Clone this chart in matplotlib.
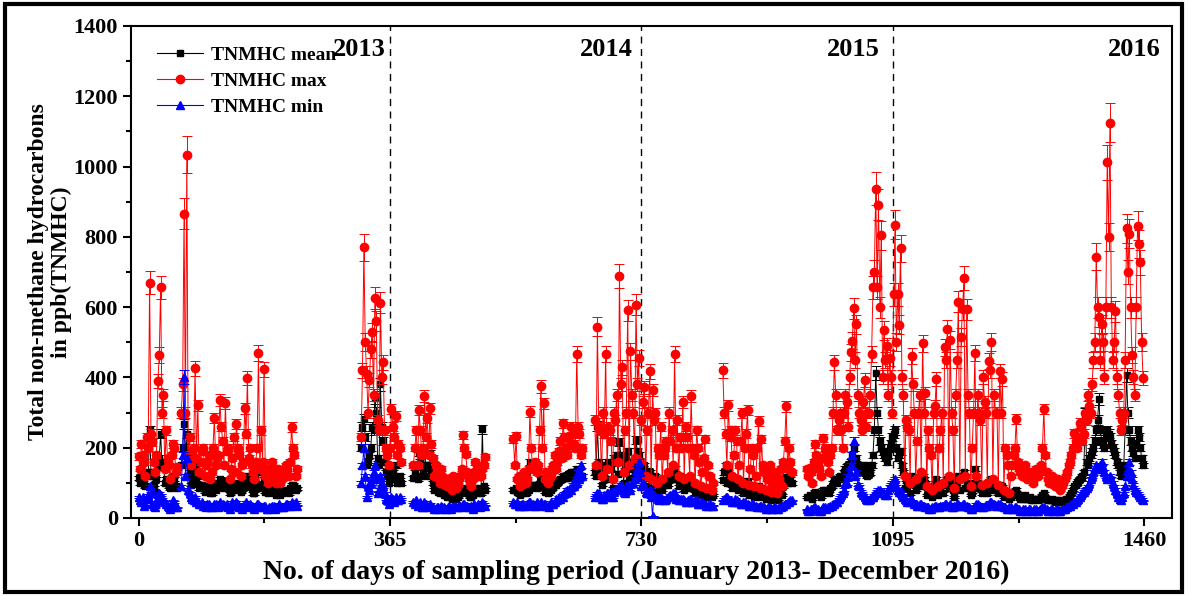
import numpy as np
import matplotlib
matplotlib.use("Agg")
import matplotlib.pyplot as plt
from matplotlib.lines import Line2D
from matplotlib.patches import Rectangle

plt.rcParams['font.family'] = ['Liberation Serif', 'DejaVu Serif']
plt.rcParams['font.weight'] = 'bold'

# Sampling days of each continuous measurement block (two interleaved reads)
days_a = np.arange(0, 57, 4)
days_b = np.arange(62, 231, 4)
days_c = np.arange(323, 380, 4)
days_d = np.arange(399, 504, 4)
days_e1 = np.arange(544, 645, 4)
days_e2 = np.arange(662, 835, 4)
days_f = np.arange(848, 949, 4)
days_g = np.arange(970, 1459, 4)

days_a2 = np.arange(2, 55, 4)
days_b2 = np.arange(64, 229, 4)
days_c2 = np.arange(325, 382, 4)
days_d2 = np.arange(401, 502, 4)
days_e1b = np.arange(546, 643, 4)
days_e2b = np.arange(664, 833, 4)
days_f2 = np.arange(850, 947, 4)
days_g2 = np.arange(972, 1457, 4)

# TNMHC max (ppb)
max_a = [175, 210, 160, 230, 670, 215, 130, 390, 656, 350, 250, 150, 180, 200, 145]
max_b = [300, 866, 1034, 230, 190, 426, 321, 160, 200, 150, 180, 130, 284, 170, 335,
         220, 327, 200, 140, 230, 267, 180, 150, 312, 397, 200, 130, 160, 469, 250,
         423, 140, 120, 160, 110, 140, 100, 130, 150, 120, 259, 180, 140]
max_c = [230, 770, 411, 392, 528, 625, 280, 613, 443, 200, 150, 310, 230, 180, 200]
max_d = [150, 250, 307, 180, 347, 284, 312, 170, 150, 120, 140, 100, 90, 110, 80,
         100, 95, 120, 236, 182, 110, 90, 130, 150, 120, 140, 173]
max_e1 = [226, 234, 120, 100, 130, 110, 303, 140, 160, 150, 375, 326, 130, 110, 140,
          180, 160, 220, 269, 200, 230, 259, 210, 466, 240, 200]
max_e2 = [280, 544, 250, 300, 466, 260, 220, 300, 350, 688, 429, 250, 591, 474, 300,
          607, 454, 280, 372, 250, 417, 364, 298, 200, 260, 180, 220, 300, 250, 466,
          280, 230, 330, 260, 200, 347, 180, 250, 160, 130, 224, 150, 120, 100]
max_f = [420, 240, 321, 250, 180, 220, 150, 298, 200, 307, 140, 180, 120, 276, 224,
         130, 110, 150, 100, 130, 90, 140, 160, 318, 200, 130]
max_g = [140, 142, 100, 210, 150, 120, 227, 180, 130, 200, 443, 250, 300, 200, 350,
         260, 471, 597, 551, 300, 250, 392, 300, 350,
         656, 937, 892, 804, 534, 489, 454, 300, 835, 636,
         767, 350, 280, 250, 460, 300, 220, 350, 497, 355,
         250, 180, 300, 395, 200, 300, 486, 537, 506, 250,
         350, 616, 514, 682, 594, 300, 200, 469, 350, 280,
         400, 300, 446, 500, 350, 300, 418, 395, 200, 150,
         120, 180, 281, 140, 120, 150, 110, 130, 100, 140,
         120, 150, 310, 130, 100, 120, 90, 110, 80, 100,
         120, 150, 180, 241, 200, 270, 220, 300, 350, 300,
         450, 744, 571, 551, 400, 1012, 1125, 450, 588, 350,
         250, 300, 824, 809, 463, 350, 832, 727, 398]

max_a2 = [140, 180, 120, 200, 240, 160, 180, 463, 300, 140, 170, 110, 210, 130]
max_b2 = [380, 300, 180, 150, 200, 170, 130, 190, 120, 160, 110, 200, 150, 180, 260,
          150, 190, 110, 170, 130, 200, 120, 160, 240, 170, 150, 110, 200, 140, 160,
          120, 100, 140, 120, 100, 130, 110, 120, 140, 160, 200, 120]
max_c2 = [420, 500, 300, 480, 350, 560, 250, 400, 250, 180, 200, 260, 290, 210, 160]
max_d2 = [200, 150, 250, 200, 230, 180, 210, 120, 140, 100, 120, 95, 110, 90, 120,
          85, 110, 140, 200, 130, 100, 110, 160, 130, 120, 150]
max_e1b = [150, 110, 90, 120, 100, 140, 200, 150, 130, 250, 200, 110, 100, 120, 150,
           140, 190, 170, 230, 180, 210, 240, 200, 260, 180]
max_e2b = [150, 260, 120, 240, 140, 250, 110, 280, 160, 380, 130, 300, 150, 350, 170,
           380, 160, 330, 120, 300, 110, 280, 100, 180, 110, 200, 130, 220, 150, 200,
           120, 200, 110, 230, 120, 200, 100, 200, 90, 170, 85, 120, 80]
max_f2 = [300, 150, 230, 120, 250, 110, 220, 100, 240, 95, 200, 90, 200, 85, 150,
          80, 130, 75, 120, 70, 110, 90, 220, 140, 160]
max_g2 = [120, 130, 160, 180, 140, 170, 200, 160, 180, 300, 350, 280, 250, 300, 330,
          400, 505, 450, 350, 280, 330, 260, 300, 466,
          700, 656, 600, 400, 450, 350, 400, 636, 500, 550,
          400, 120, 260, 100, 380, 110, 300, 130, 300, 90,
          200, 80, 320, 90, 250, 100, 450, 120, 300, 85,
          450, 110, 594, 120, 350, 90, 300, 120, 300, 95,
          330, 100, 420, 110, 300, 95, 300, 80, 180, 70,
          150, 200, 160, 130, 140, 120, 120, 110, 120, 130,
          140, 200, 180, 110, 110, 100, 100, 90, 90, 110,
          130, 160, 200, 220, 230, 260, 240, 280, 320, 380,
          500, 600, 450, 500, 600, 800, 600, 500, 400, 300,
          280, 450, 700, 600, 400, 600, 780, 500]

# TNMHC mean (ppb)
mean_a = [115, 120, 95, 130, 250, 120, 75, 145, 240, 160, 110, 90, 100, 110, 85]
mean_b = [150, 267, 240, 130, 105, 150, 120, 95, 85, 80, 90, 70, 100, 85, 110,
          95, 105, 90, 75, 95, 100, 85, 80, 105, 120, 95, 70, 85, 130, 95,
          110, 80, 75, 85, 70, 80, 65, 75, 80, 70, 95, 90, 85]
mean_c = [200, 281, 150, 180, 260, 340, 170, 380, 220, 130, 100, 120, 110, 100, 120]
mean_d = [114, 150, 185, 120, 190, 150, 185, 100, 90, 75, 80, 65, 60, 70, 55,
          65, 60, 70, 80, 75, 65, 60, 75, 85, 70, 253, 80]
mean_e1 = [80, 85, 75, 70, 80, 75, 159, 90, 95, 136, 110, 90, 80, 75, 85,
           95, 100, 110, 120, 115, 125, 130, 120, 140, 130, 120]
mean_e2 = [130, 262, 140, 130, 150, 160, 140, 170, 180, 216, 170, 150, 190, 160, 140,
           222, 180, 140, 150, 120, 130, 110, 120, 100, 110, 95, 100, 120, 130, 140,
           110, 120, 100, 95, 90, 105, 85, 95, 80, 75, 85, 70, 75, 65]
mean_f = [108, 150, 130, 110, 100, 110, 95, 100, 90, 105, 85, 80, 75, 90, 85,
          70, 65, 75, 60, 70, 55, 75, 90, 117, 150, 100]
mean_g = [60, 65, 55, 75, 70, 60, 80, 75, 70, 90, 110, 100, 120, 110, 140,
          150, 160, 200, 170, 140, 130, 150, 120, 130,
          180, 413, 250, 200, 180, 160, 200, 230, 250, 170,
          190, 130, 110, 100, 120, 110, 90, 100, 120, 100,
          85, 75, 90, 110, 80, 95, 100, 110, 105, 80,
          90, 120, 110, 130, 100, 85, 75, 140, 100, 90,
          95, 85, 100, 110, 90, 80, 95, 90, 70, 65,
          60, 70, 80, 60, 55, 65, 55, 60, 50, 55,
          50, 60, 70, 55, 50, 55, 45, 50, 45, 50,
          55, 60, 70, 90, 100, 110, 120, 297, 150, 180,
          200, 250, 338, 220, 200, 250, 230, 200, 180, 150,
          120, 150, 406, 250, 200, 170, 250, 200, 150]

mean_a2 = [100, 110, 90, 120, 130, 95, 110, 170, 150, 100, 105, 85, 120, 90]
mean_b2 = [200, 180, 120, 95, 110, 100, 85, 95, 75, 90, 70, 85, 80, 90, 100,
           85, 95, 70, 90, 80, 95, 75, 85, 100, 90, 85, 70, 95, 85, 90,
           75, 70, 80, 75, 65, 75, 70, 75, 80, 85, 95, 80]
mean_c2 = [260, 230, 160, 200, 250, 300, 150, 260, 160, 120, 110, 130, 150, 110, 100]
mean_d2 = [130, 110, 160, 130, 150, 120, 140, 80, 85, 70, 75, 65, 70, 60, 70,
           55, 65, 75, 85, 70, 60, 65, 85, 75, 70, 90]
mean_e1b = [80, 75, 65, 75, 70, 80, 95, 90, 85, 100, 95, 75, 70, 80, 90,
            95, 105, 110, 120, 115, 125, 130, 120, 135, 120]
mean_e2b = [120, 160, 95, 140, 110, 145, 85, 160, 125, 180, 100, 170, 115, 160, 130,
            190, 120, 140, 90, 135, 85, 115, 75, 95, 80, 100, 95, 125, 110, 110,
            90, 105, 80, 95, 85, 90, 70, 85, 65, 80, 60, 70, 60]
mean_f2 = [130, 100, 120, 85, 115, 80, 105, 70, 100, 65, 85, 60, 85, 60, 75,
           55, 70, 50, 65, 50, 65, 65, 100, 100, 110]
mean_g2 = [60, 60, 70, 70, 65, 70, 80, 75, 85, 100, 110, 115, 115, 130, 145,
           155, 180, 160, 150, 135, 140, 125, 125, 150,
           250, 300, 220, 190, 170, 180, 210, 240, 200, 180,
           150, 85, 105, 70, 115, 80, 95, 90, 110, 65,
           80, 60, 100, 65, 90, 70, 105, 85, 85, 60,
           105, 80, 120, 85, 90, 65, 100, 85, 95, 70,
           90, 70, 105, 80, 85, 70, 90, 60, 70, 55,
           65, 75, 65, 55, 60, 55, 55, 50, 55, 55,
           55, 65, 60, 50, 50, 50, 50, 45, 45, 50,
           55, 65, 80, 95, 105, 115, 130, 160, 170, 190,
           220, 280, 250, 210, 230, 240, 210, 190, 160, 130,
           140, 250, 300, 220, 185, 210, 230, 170]

# TNMHC min (ppb)
min_a = [60, 45, 35, 55, 90, 40, 30, 60, 65, 50, 40, 30, 35, 45, 30]
min_b = [90, 400, 170, 70, 55, 60, 45, 40, 35, 30, 40, 30, 40, 35, 45,
         40, 35, 30, 35, 40, 45, 30, 25, 40, 35, 40, 30, 35, 40, 30,
         35, 25, 30, 35, 25, 30, 35, 30, 40, 35, 45, 40, 35]
min_c = [100, 200, 60, 80, 110, 150, 70, 120, 90, 55, 40, 60, 45, 50, 60]
min_d = [45, 50, 40, 30, 45, 35, 40, 30, 25, 30, 35, 30, 25, 35, 30,
         35, 30, 35, 40, 35, 30, 35, 40, 35, 30, 45, 35]
min_e1 = [45, 40, 35, 40, 35, 40, 45, 40, 35, 40, 45, 40, 35, 30, 40,
          45, 50, 55, 60, 70, 75, 80, 90, 100, 110, 120]
min_e2 = [60, 70, 60, 55, 65, 70, 60, 75, 80, 90, 85, 70, 95, 80, 100,
          120, 160, 90, 90, 70, 80, 5, 60, 55, 60, 50, 55, 60, 65, 70,
          55, 50, 55, 45, 50, 55, 45, 50, 40, 45, 40, 35, 40, 35]
min_f = [50, 60, 55, 50, 45, 50, 45, 40, 45, 40, 35, 40, 35, 30, 35,
         30, 25, 30, 25, 30, 25, 30, 35, 40, 45, 50]
min_g = [25, 20, 25, 30, 25, 20, 30, 25, 30, 35, 40, 45, 60, 70, 100,
         120, 150, 220, 130, 90, 70, 60, 50, 55,
         60, 70, 80, 75, 70, 65, 90, 100, 110, 80,
         70, 60, 50, 45, 50, 40, 35, 40, 35, 30,
         30, 25, 30, 35, 30, 35, 40, 35, 40, 30,
         35, 40, 35, 40, 35, 30, 25, 35, 40, 35,
         30, 35, 40, 45, 40, 35, 40, 35, 30, 25,
         30, 25, 30, 25, 20, 25, 20, 25, 20, 25,
         20, 25, 30, 25, 20, 25, 20, 25, 20, 25,
         30, 35, 40, 45, 50, 60, 70, 80, 90, 110,
         130, 150, 140, 160, 130, 110, 120, 100, 80, 60,
         50, 70, 120, 160, 110, 80, 70, 60, 50]

min_a2 = [50, 60, 40, 65, 70, 35, 45, 70, 55, 45, 35, 25, 50, 30]
min_b2 = [180, 120, 80, 60, 50, 45, 40, 45, 35, 40, 30, 35, 40, 30, 40,
          35, 40, 25, 45, 35, 40, 30, 35, 45, 30, 35, 25, 40, 35, 30,
          35, 25, 30, 35, 30, 40, 30, 35, 40, 35, 40, 45]
min_c2 = [150, 120, 90, 100, 130, 110, 80, 100, 70, 50, 45, 55, 60, 50, 55]
min_d2 = [40, 35, 45, 30, 40, 30, 35, 25, 30, 25, 30, 25, 30, 25, 35,
          30, 35, 30, 40, 35, 30, 25, 35, 40, 35, 40]
min_e1b = [40, 45, 35, 40, 35, 45, 40, 35, 45, 40, 35, 40, 35, 45, 40,
           55, 60, 65, 70, 80, 85, 95, 110, 130, 150]
min_e2b = [65, 70, 55, 65, 70, 65, 60, 80, 85, 95, 75, 90, 85, 100, 110,
           140, 130, 100, 75, 70, 60, 65, 60, 50, 55, 50, 60, 65, 70, 55,
           50, 55, 50, 45, 55, 45, 50, 40, 45, 40, 35, 40, 35]
min_f2 = [55, 60, 50, 45, 55, 45, 40, 45, 40, 35, 40, 35, 30, 35, 30,
          25, 30, 25, 30, 25, 30, 35, 40, 45, 50]
min_g2 = [20, 25, 30, 25, 20, 25, 30, 30, 35, 40, 45, 55, 65, 80, 100,
          130, 180, 120, 95, 75, 65, 55, 50, 60,
          65, 75, 80, 70, 65, 80, 95, 105, 90, 75,
          65, 55, 45, 50, 45, 40, 35, 40, 35, 30,
          25, 30, 35, 30, 35, 35, 40, 35, 30, 35,
          40, 35, 40, 35, 30, 25, 30, 40, 35, 30,
          35, 35, 45, 40, 35, 40, 35, 30, 25, 30,
          25, 30, 25, 20, 25, 20, 25, 20, 25, 20,
          25, 30, 25, 20, 25, 20, 25, 20, 25, 25,
          30, 35, 40, 45, 55, 65, 75, 85, 100, 120,
          140, 145, 150, 145, 120, 115, 110, 90, 70, 55,
          60, 90, 140, 130, 95, 75, 65, 55]

err_frac = 0.05  # relative error bar half-length
years = ["2013", "2014", "2015", "2016"]
year_x = [358, 718, 1076, 1483]
year_lines = [365, 730, 1095]

blocks = [
    (days_a, max_a, mean_a, min_a, days_a2, max_a2, mean_a2, min_a2),
    (days_b, max_b, mean_b, min_b, days_b2, max_b2, mean_b2, min_b2),
    (days_c, max_c, mean_c, min_c, days_c2, max_c2, mean_c2, min_c2),
    (days_d, max_d, mean_d, min_d, days_d2, max_d2, mean_d2, min_d2),
    (days_e1, max_e1, mean_e1, min_e1, days_e1b, max_e1b, mean_e1b, min_e1b),
    (days_e2, max_e2, mean_e2, min_e2, days_e2b, max_e2b, mean_e2b, min_e2b),
    (days_f, max_f, mean_f, min_f, days_f2, max_f2, mean_f2, min_f2),
    (days_g, max_g, mean_g, min_g, days_g2, max_g2, mean_g2, min_g2),
]

# merge the two reads of every block, put NaN between blocks
cols = [[], [], [], []]
for d1, x1, m1, n1, d2, x2, m2, n2 in blocks:
    d = np.concatenate([d1, d2])
    order = np.argsort(d)
    for c, arr in zip(cols, [d, np.concatenate([x1, x2]),
                             np.concatenate([m1, m2]),
                             np.concatenate([n1, n2])]):
        c.extend(list(np.asarray(arr, dtype=float)[order]))
        c.append(np.nan)
days, tmax, tmean, tmin = [np.array(c[:-1]) for c in cols]

fig = plt.figure(figsize=(11.92, 5.96), dpi=100)
ax = fig.add_axes([0.1099, 0.1309, 0.8733, 0.8255])

# mean underneath, max over it, min on top
series = [
    (tmean, 'black', 's', 4.8, 2),
    (tmax, 'red', 'o', 6.0, 3),
    (tmin, 'blue', '^', 5.6, 4),
]
for vals, col, mk, ms, z in series:
    ax.errorbar(days, vals, yerr=vals * err_frac, fmt='-' + mk, color=col,
                ms=ms, lw=0.7, elinewidth=0.7, capsize=3.5, capthick=0.7,
                zorder=z)

for xl in year_lines:
    ax.axvline(xl, color='black', ls=(0, (5, 4)), lw=1.0, zorder=1)
for yr, xt in zip(years, year_x):
    ax.text(xt, 1332, yr, ha='right', va='center', fontsize=19,
            fontweight='bold')

ax.set_xlim(-11, 1500)
ax.set_ylim(0, 1400)
ax.set_xticks([0, 365, 730, 1095, 1460])
ax.set_xticks([182.5, 547.5, 912.5, 1277.5], minor=True)
ax.set_yticks(np.arange(0, 1401, 200))
ax.set_yticks(np.arange(100, 1400, 200), minor=True)
ax.tick_params(axis='both', which='major', direction='out', length=6,
               width=1.5, labelsize=16)
ax.tick_params(axis='both', which='minor', direction='out', length=3.5,
               width=1.5)
for lab in ax.get_xticklabels() + ax.get_yticklabels():
    lab.set_fontweight('bold')
for sp in ax.spines.values():
    sp.set_linewidth(1.5)

ax.set_xlabel("No. of days of sampling period (January 2013- December 2016)",
              fontsize=20, fontweight='bold')
ax.xaxis.set_label_coords(0.485, -0.085)
ax.set_ylabel("Total non-methane hydrocarbons\nin ppb(TNMHC)", fontsize=17,
              fontweight='bold', linespacing=1.1)
ax.yaxis.set_label_coords(-0.057, 0.5)

handles = [
    Line2D([0], [0], color='black', marker='s', ms=4.8, lw=0.8),
    Line2D([0], [0], color='red', marker='o', ms=6.0, lw=0.8),
    Line2D([0], [0], color='blue', marker='^', ms=5.6, lw=0.8),
]
ax.legend(handles, ["TNMHC mean", "TNMHC max", "TNMHC min"],
          loc='upper left', bbox_to_anchor=(0.008, 0.995), frameon=False,
          prop={'family': 'Liberation Serif', 'weight': 'bold', 'size': 14},
          handlelength=2.4, handletextpad=0.4, labelspacing=0.45)

fig.patches.append(Rectangle((5 / 1192, 4 / 596), 1177 / 1192, 588 / 596,
                             transform=fig.transFigure, fill=False,
                             lw=3, edgecolor='black'))

fig.savefig("out.png", dpi=100)
